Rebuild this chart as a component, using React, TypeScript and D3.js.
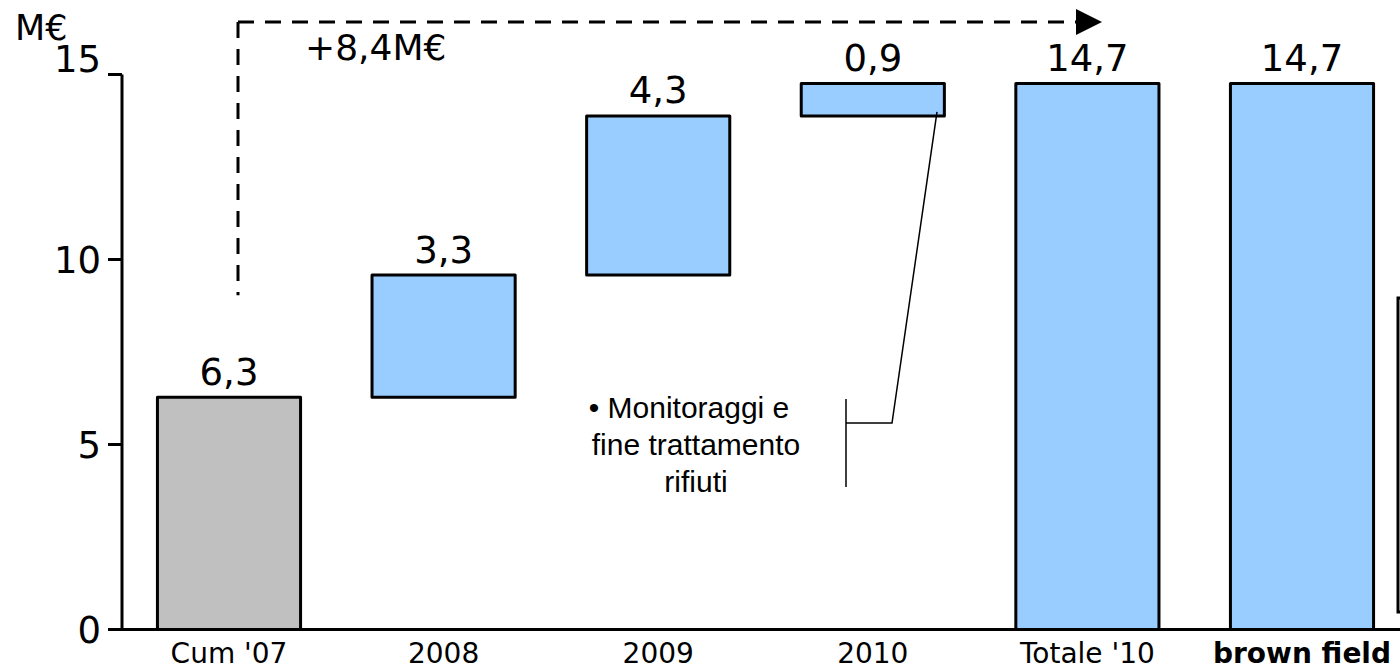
import React from "react";
import * as d3 from "d3";

const categories = ["Cum '07", "2008", "2009", "2010", "Totale '10", "brown field"];
const baseValue = 6.28;
const yearIncrements = [3.3, 4.3, 0.88];
const totalValues = [14.76, 14.76];
const valueLabels = ["6,3", "3,3", "4,3", "0,9", "14,7", "14,7"];
const yTicks = [0, 5, 10, 15];
const unitLabel = "M€";
const deltaLabel = "+8,4M€";
const noteLines = ["• Monitoraggi e", "fine trattamento", "rifiuti"];
const boldCategories = ["brown field"];

const W = 1400;
const H = 670;
const FONT = "'DejaVu Sans', Verdana, sans-serif";
const BLUE = "#99CCFF";
const GRAY = "#C0C0C0";

type Bar = { cat: string; low: number; high: number; fill: string; label: string };

function buildBars(): Bar[] {
  const bars: Bar[] = [];
  bars.push({ cat: categories[0], low: 0, high: baseValue, fill: GRAY, label: valueLabels[0] });
  let run = baseValue;
  yearIncrements.forEach((v, i) => {
    bars.push({ cat: categories[i + 1], low: run, high: run + v, fill: BLUE, label: valueLabels[i + 1] });
    run += v;
  });
  totalValues.forEach((v, i) => {
    const idx = 1 + yearIncrements.length + i;
    bars.push({ cat: categories[idx], low: 0, high: v, fill: BLUE, label: valueLabels[idx] });
  });
  return bars;
}

export default function App() {
  const y = d3.scaleLinear().domain([0, 15]).range([629.5, 74.5]);
  const x = d3.scalePoint<string>().domain(categories).range([229, 1302]);
  const barW = x.step() * 0.667;
  const axisX = 122;
  const bars = buildBars();
  const yMax = d3.max(yTicks) as number;

  const cornerX = 238;
  const cornerY = 22;
  const arrowEnd = 1076;

  return (
    <div style={{ position: "fixed", left: 0, top: 0, width: W, height: H, background: "#fff" }}>
      <svg width={W} height={H} viewBox={`0 0 ${W} ${H}`} style={{ display: "block" }}>
        <rect x={0} y={0} width={W} height={H} fill="#fff" />

        {/* bars */}
        {bars.map((b) => {
          const cx = x(b.cat) as number;
          return (
            <g key={b.cat}>
              <rect
                x={cx - barW / 2}
                y={y(b.high)}
                width={barW}
                height={y(b.low) - y(b.high)}
                fill={b.fill}
                stroke="#000"
                strokeWidth={3}
                strokeLinejoin="round"
              />
              <text
                x={cx}
                y={y(b.high) - 12.5}
                textAnchor="middle"
                fontFamily={FONT}
                fontSize={37}
                fill="#000"
              >
                {b.label}
              </text>
            </g>
          );
        })}

        {/* axes */}
        <line x1={axisX} x2={W} y1={y(0)} y2={y(0)} stroke="#000" strokeWidth={3} />
        <line x1={axisX} x2={axisX} y1={y(yMax)} y2={y(0) + 1.5} stroke="#000" strokeWidth={3} />
        {yTicks.map((t) => (
          <g key={t}>
            <line x1={axisX - 14} x2={axisX} y1={y(t)} y2={y(t)} stroke="#000" strokeWidth={3} />
            <text
              x={101}
              y={t === yMax ? y(t) - 3 : y(t) + 13.5}
              textAnchor="end"
              fontFamily={FONT}
              fontSize={37}
              fill="#000"
            >
              {t}
            </text>
          </g>
        ))}
        <text x={15} y={40} fontFamily={FONT} fontSize={35} fill="#000">
          {unitLabel}
        </text>

        {/* category labels */}
        {categories.map((c) => (
          <text
            key={c}
            x={x(c) as number}
            y={663}
            textAnchor="middle"
            fontFamily={FONT}
            fontSize={28}
            fontWeight={boldCategories.includes(c) ? "bold" : "normal"}
            fill="#000"
          >
            {c}
          </text>
        ))}

        {/* dashed growth arrow */}
        <path
          d={`M${cornerX},${cornerY} H${arrowEnd}`}
          fill="none"
          stroke="#000"
          strokeWidth={3}
          strokeDasharray="16 11"
        />
        <path
          d={`M${cornerX},${cornerY} V${y(baseValue) - 102}`}
          fill="none"
          stroke="#000"
          strokeWidth={3}
          strokeDasharray="16 11"
        />
        <polygon
          points={`${arrowEnd},${cornerY - 13} ${arrowEnd + 26},${cornerY} ${arrowEnd},${cornerY + 13}`}
          fill="#000"
        />
        <text x={305} y={60} fontFamily={FONT} fontSize={36} fill="#000">
          {deltaLabel}
        </text>

        {/* annotation */}
        {noteLines.map((l, i) => (
          <text
            key={l}
            x={i === 0 ? 689 : 696}
            y={418 + i * 37}
            textAnchor="middle"
            fontFamily="'Liberation Sans', Arial, sans-serif"
            fontSize={30}
            fill="#000"
          >
            {l}
          </text>
        ))}
        <path
          d={`M846,399 V487 M846,423 H892 L937,${y(baseValue + yearIncrements[0] + yearIncrements[1]) - 4}`}
          fill="none"
          stroke="#000"
          strokeWidth={1.5}
        />

        {/* right edge bracket */}
        <path d="M1402,298 H1398 V612 H1402" fill="none" stroke="#000" strokeWidth={3} />
      </svg>
    </div>
  );
}
